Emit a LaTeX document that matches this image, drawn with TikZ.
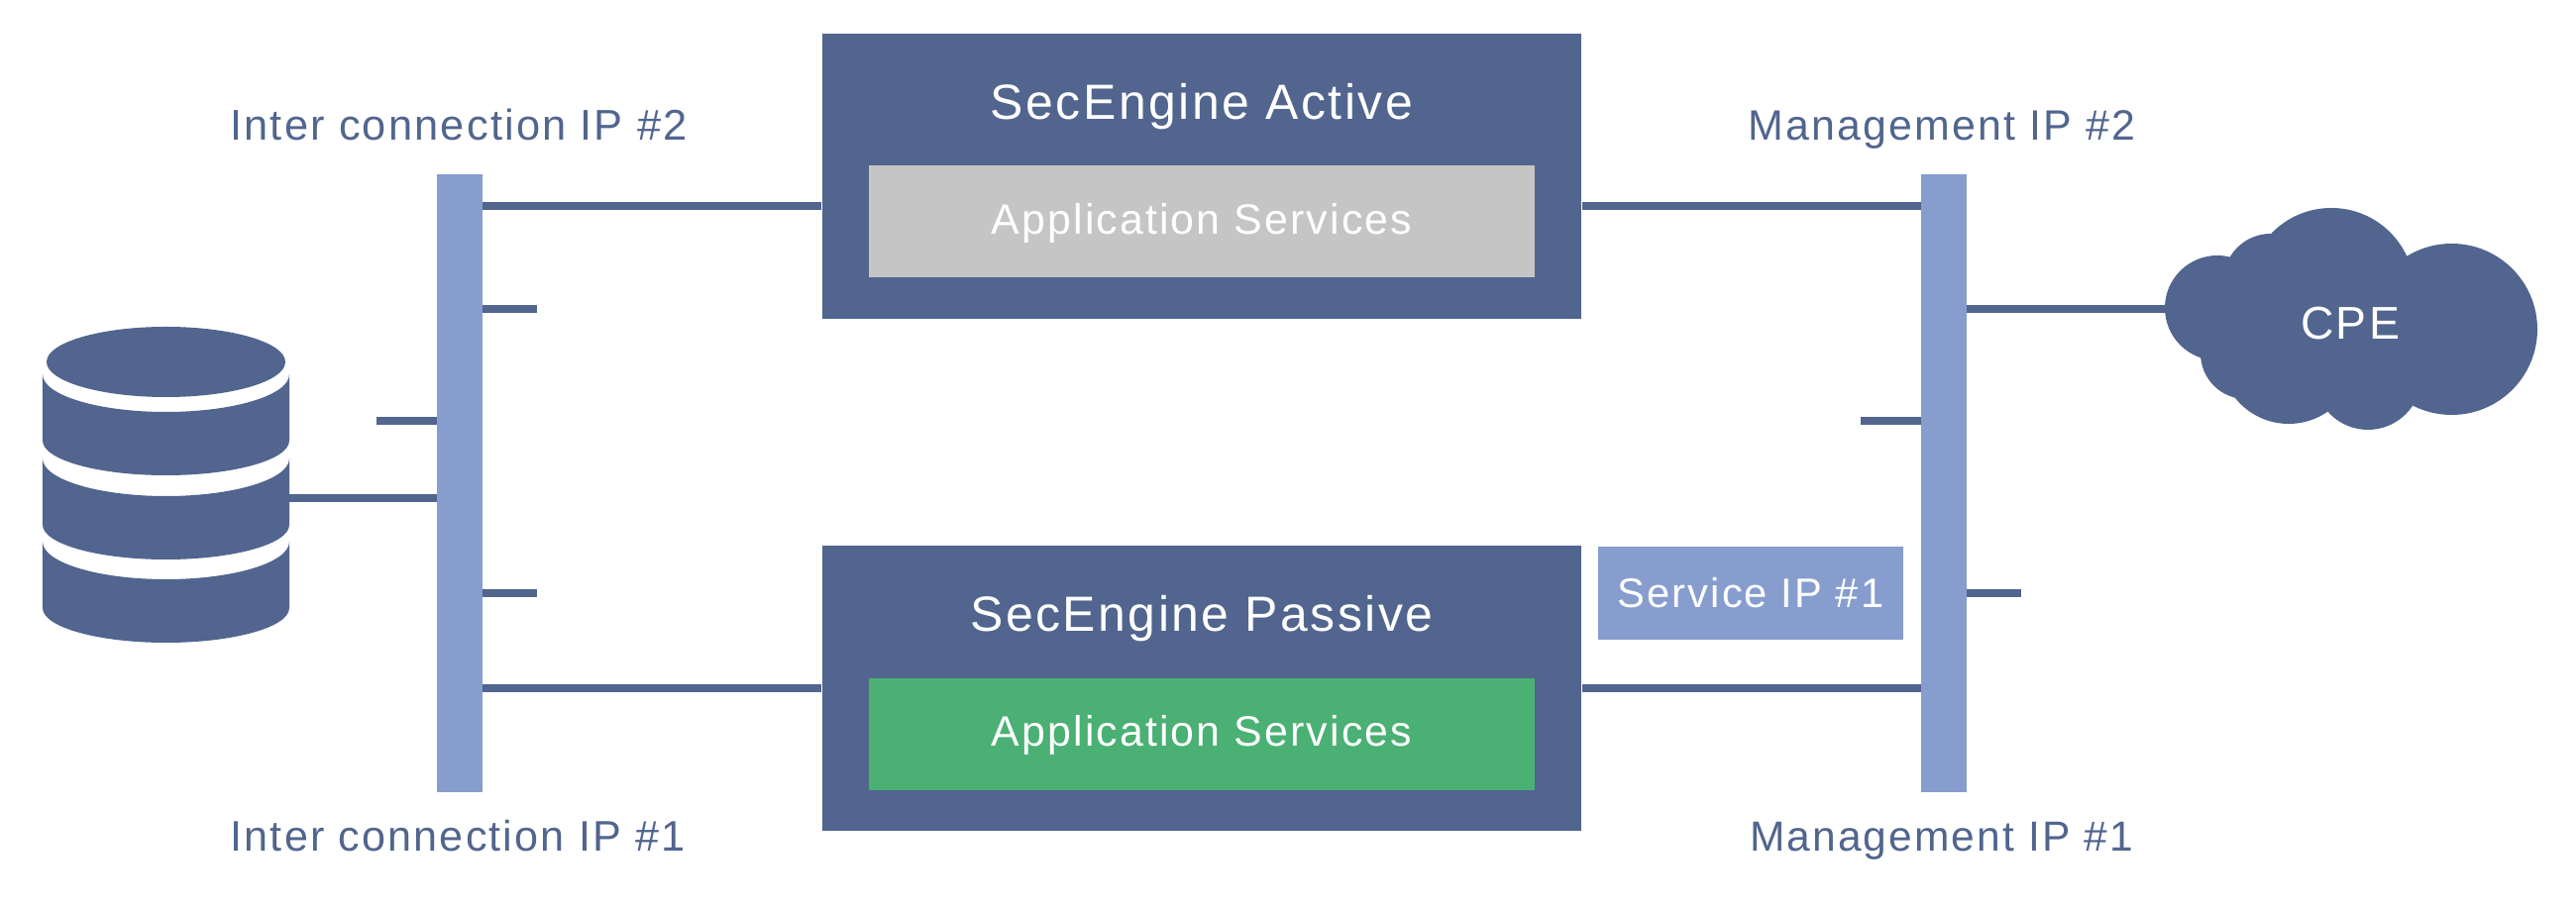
\documentclass[tikz,border=0pt]{standalone}
\usepackage{fontspec}
\setmainfont[LetterSpace=5]{Liberation Sans}
\usetikzlibrary{positioning}
\definecolor{navy}{HTML}{51658E}
\definecolor{steel}{HTML}{879DCE}
\definecolor{leaf}{HTML}{4AB074}
\definecolor{ash}{HTML}{C5C5C5}
\tikzset{
	% servidores
	enginebox/.style={
		rectangle,
		fill=navy,
		inner sep=0pt,
		minimum width=7.66cm,
		minimum height=2.88cm
	}, %
	appbox/.style={
		rectangle,
		inner sep=0pt,
		minimum width=6.72cm,
		minimum height=1.13cm
	}, %
	% barras
	busbar/.style={
		rectangle,
		fill=steel,
		inner sep=0pt,
		minimum width=0.46cm,
		minimum height=6.24cm
	}, %
	link/.style={
		draw=navy,
		line width=2.5pt
	}, %
	% textos
	title/.style={
		anchor=base,
		inner sep=0pt,
		text=white,
		font=\fontsize{14.2}{17}\selectfont
	}, %
	caption/.style={
		anchor=base,
		inner sep=0pt,
		text=white,
		font=\fontsize{12.2}{15}\selectfont
	}, %
	iplabel/.style={
		caption,
		text=navy
	} %
}

\begin{document}
\begin{tikzpicture}
	\useasboundingbox (0,0) rectangle (26,9.21);

	% pontos nas barras
	\coordinate (intertop) at (4.87,7.13);
	\coordinate (interlow) at (4.87,2.26);
	\coordinate (interup) at (4.87,6.09);
	\coordinate (interdown) at (4.87,3.22);
	\coordinate (interstub) at (4.41,4.96);
	\coordinate (interdb) at (4.41,4.18);
	\coordinate (mgmttop) at (19.39,7.13);
	\coordinate (mgmtlow) at (19.39,2.26);
	\coordinate (mgmtstub) at (19.39,4.96);
	\coordinate (mgmtup) at (19.85,6.09);
	\coordinate (mgmtdown) at (19.85,3.22);

	% barras
	\node [busbar] (interbar) at (4.64,4.33) {};
	\node [busbar] (mgmtbar) at (19.62,4.33) {};

	% caixas
	\node [enginebox] (active) at (12.13,7.43) {};
	\node [enginebox] (passive) at (12.13,2.26) {};
	\node [appbox,fill=ash] (grayapp) at (12.13,6.972) {};
	\node [appbox,fill=leaf] (greenapp) at (12.13,1.795) {};
	\node [rectangle,fill=steel,inner sep=0pt,minimum width=3.08cm,minimum height=0.94cm] (service) at (17.67,3.22) {};

	% textos das caixas
	\node [title] (activetxt) at (12.13,8.005) {SecEngine Active};
	\node [title] (passivetxt) at (12.13,2.835) {SecEngine Passive};
	\node [caption] (graytxt) at (12.13,6.845) {Application Services};
	\node [caption] (greentxt) at (12.13,1.675) {Application Services};
	\node [caption,font=\fontsize{11.85}{15}\selectfont] (servicetxt) at (17.67,3.075) {Service IP \#1};

	% rotulos
	\node [iplabel,font=\fontsize{12.35}{15}\selectfont] (inter2) at (4.63,7.79) {Inter connection IP \#2};
	\node [iplabel,font=\fontsize{12.28}{15}\selectfont] (inter1) at (4.62,0.61) {Inter connection IP \#1};
	\node [iplabel] (mgmt2) at (19.6,7.79) {Management IP \#2};
	\node [iplabel,font=\fontsize{12.1}{15}\selectfont] (mgmt1) at (19.595,0.61) {Management IP \#1};

	% ligacoes
	\draw [link] (intertop) -- (intertop -| active.west);
	\draw [link] (interlow) -- (interlow -| passive.west);
	\draw [link] (mgmttop) -- (mgmttop -| active.east);
	\draw [link] (mgmtlow) -- (mgmtlow -| passive.east);
	\draw [link] (interup) -- ++(0.55,0);
	\draw [link] (interdown) -- ++(0.55,0);
	\draw [link] (interstub) -- ++(-0.61,0);
	\draw [link] (mgmtstub) -- ++(-0.61,0);
	\draw [link] (mgmtdown) -- ++(0.55,0);

	% banco de dados
	\fill [navy] (1.675,5.555) ellipse (1.205 and 0.355);
	\foreach \ytop/\name in {5.43/slabA,4.58/slabB,3.74/slabC} {
		\coordinate (\name) at (0.43,\ytop);
		\fill [navy] (\name) -- ++(0,-0.67) arc (180:360:1.245 and 0.35) -- ++(0,0.67) arc (0:-180:1.245 and 0.38) -- cycle;
	}
	\coordinate (dbport) at (2.92,4.18);
	\draw [link] (dbport) -- (interdb);

	% nuvem
	\coordinate (cloudport) at (21.9,6.09);
	\draw [link] (mgmtup) -- (cloudport);
	\foreach \cx/\cy/\r in {24.745/5.885/0.865,23.53/6.27/0.84,22.38/6.10/0.53,22.92/6.37/0.48,23.10/5.62/0.69,22.67/5.64/0.46,23.90/5.41/0.54,23.5/5.9/0.8} {
		\fill [navy] (\cx,\cy) circle (\r);
	}
	\node [anchor=base,inner sep=0pt,text=white,font=\fontsize{13.2}{16}\selectfont] (cpe) at (23.72,5.78) {CPE};
\end{tikzpicture}
\end{document}
